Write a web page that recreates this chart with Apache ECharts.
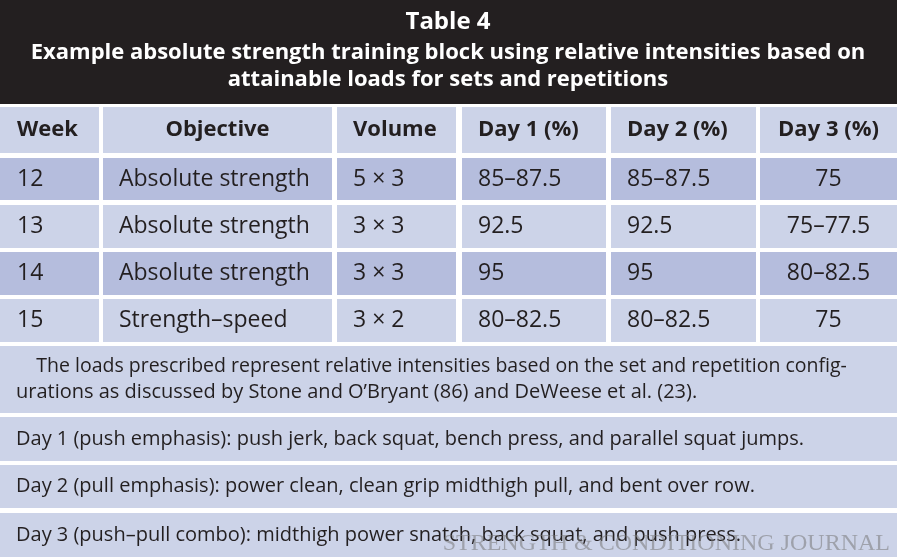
<!DOCTYPE html>
<html>
<head>
<meta charset="utf-8">
<script src="https://cdn.jsdelivr.net/npm/echarts@6/dist/echarts.min.js"></script>
<style>html,body{margin:0;padding:0;background:#fff}#main{width:897px;height:557px}</style>
</head>
<body>
<div id="main"></div>
<script>
// table content
var titleLines = ['Table 4', 'Example absolute strength training block using relative intensities based on', 'attainable loads for sets and repetitions'];
var headers = ['Week', 'Objective', 'Volume', 'Day 1 (%)', 'Day 2 (%)', 'Day 3 (%)'];
var weeks = ['12', '13', '14', '15'];
var objectives = ['Absolute strength', 'Absolute strength', 'Absolute strength', 'Strength\u2013speed'];
var volumes = ['5 \u00d7 3', '3 \u00d7 3', '3 \u00d7 3', '3 \u00d7 2'];
var day1 = ['85\u201387.5', '92.5', '95', '80\u201382.5'];
var day2 = ['85\u201387.5', '92.5', '95', '80\u201382.5'];
var day3 = ['75', '75\u201377.5', '80\u201382.5', '75'];
var notes = [
  ['    The loads prescribed represent relative intensities based on the set and repetition config-', 'urations as discussed by Stone and O\u2019Bryant (86) and DeWeese et al. (23).'],
  ['Day 1 (push emphasis): push jerk, back squat, bench press, and parallel squat jumps.'],
  ['Day 2 (pull emphasis): power clean, clean grip midthigh pull, and bent over row.'],
  ['Day 3 (push\u2013pull combo): midthigh power snatch, back squat, and push press.']
];

// layout
var colX = [0, 103, 337, 462, 611, 760];
var colW = [99, 229, 119, 144, 145, 137];
var rowY = [107, 158, 205, 252, 299];
var rowH = [46, 42, 43, 43, 43];
var noteY = [346, 417, 465, 513];
var noteH = [67, 44, 43, 44];
var LIGHT = '#ccd3e8', DARK = '#b5bddd';
var FONT = '"Open Sans", "DejaVu Sans", sans-serif';

var g = [];
g.push({type: 'rect', shape: {x: 0, y: 0, width: 897, height: 104}, style: {fill: '#231f20'}});
var ty = [22, 53, 80];
titleLines.forEach(function (t, i) {
  g.push({type: 'text', x: 448, y: ty[i], style: {text: t, fill: '#fff', font: 'bold ' + (i === 0 ? 24 : 22) + 'px ' + FONT, align: 'center', verticalAlign: 'middle'}});
});

var cols = [weeks, objectives, volumes, day1, day2, day3];
for (var r = 0; r < 5; r++) {
  var fill = r % 2 === 0 ? LIGHT : DARK;
  for (var c = 0; c < 6; c++) {
    g.push({type: 'rect', shape: {x: colX[c], y: rowY[r], width: colW[c], height: rowH[r]}, style: {fill: fill}});
    var txt = r === 0 ? headers[c] : cols[c][r - 1];
    var center = (r === 0 && c === 1) || c === 5;
    var tx = center ? colX[c] + colW[c] / 2 : colX[c] + (c === 0 ? 17 : 16);
    g.push({type: 'text', x: tx, y: rowY[r] + rowH[r] / 2, style: {text: txt, fill: '#231f20', align: center ? 'center' : 'left', verticalAlign: 'middle', font: (r === 0 ? 'bold 22px ' : '23px ') + FONT}});
  }
}

notes.forEach(function (lines, i) {
  g.push({type: 'rect', shape: {x: 0, y: noteY[i], width: 897, height: noteH[i]}, style: {fill: LIGHT}});
  lines.forEach(function (l, j) {
    var y = lines.length === 1 ? noteY[i] + noteH[i] / 2 : noteY[i] + 20 + j * 26;
    g.push({type: 'text', x: 16, y: y, style: {text: l, fill: '#231f20', font: (j === 0 && lines.length > 1 ? '19.5px ' : '20px ') + FONT, verticalAlign: 'middle'}});
  });
});

g.push({type: 'text', x: 890, y: 544, style: {text: 'STRENGTH & CONDITIONING JOURNAL', fill: 'rgba(120,120,120,0.55)', font: '24px "Liberation Serif", serif', align: 'right', verticalAlign: 'middle'}});

var chart = echarts.init(document.getElementById('main'));
chart.setOption({animation: false, graphic: g});
</script>
</body>
</html>
